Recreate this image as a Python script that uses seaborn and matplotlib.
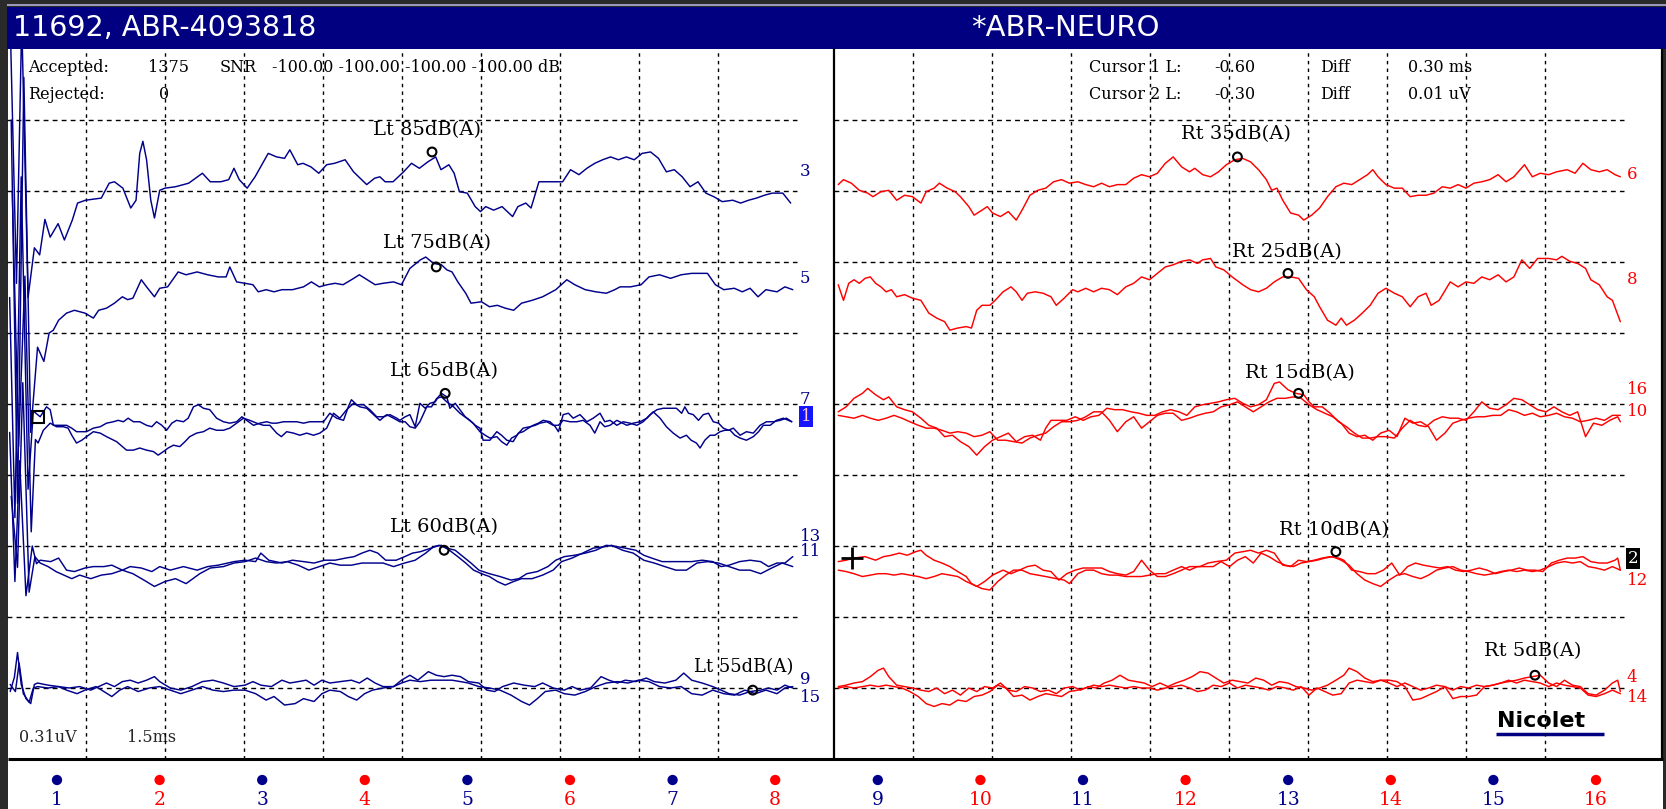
import numpy as np
import pandas as pd
import seaborn as sns
import matplotlib.pyplot as plt
from matplotlib.patches import Rectangle

# ---- waveform data: (time in ms, vertical position in screen divisions) ----
# left ear (blue)
LT85_3 = [(0.06,10.4),(0.18,6.7),(0.28,10.4),(0.40,6.5),(0.52,7.2),(0.62,7.1),(0.72,7.6),(0.82,7.35),(0.97,7.54),(1.09,7.31),(1.24,7.59),(1.34,7.83),(1.49,7.87),(1.79,7.90),(1.94,8.11),(2.04,8.13),(2.20,8.04),(2.35,7.76),(2.45,7.87),(2.52,8.53),(2.58,8.70),(2.65,8.44),(2.73,7.87),(2.80,7.62),(2.90,8.01),(3.00,8.04),(3.20,8.06),(3.45,8.11),(3.71,8.25),(3.86,8.13),(4.06,8.13),(4.21,8.16),(4.31,8.32),(4.41,8.16),(4.56,8.04),(4.71,8.20),(4.96,8.53),(5.12,8.48),(5.27,8.46),(5.37,8.58),(5.52,8.37),(5.62,8.39),(5.77,8.34),(5.92,8.25),(6.07,8.37),(6.22,8.39),(6.42,8.44),(6.58,8.27),(6.83,8.09),(6.98,8.18),(7.08,8.20),(7.18,8.13),(7.33,8.13),(7.53,8.27),(7.68,8.39),(7.83,8.32),(7.99,8.41),(8.14,8.48),(8.24,8.30),(8.39,8.37),(8.49,8.25),(8.59,7.99),(8.74,7.97),(8.89,7.78),(8.99,7.71),(9.09,7.78),(9.24,7.73),(9.40,7.78),(9.60,7.64),(9.70,7.78),(9.85,7.83),(9.95,7.76),(10.10,8.13),(10.35,8.13),(10.55,8.13),(10.70,8.30),(10.86,8.23),(11.01,8.32),(11.16,8.39),(11.31,8.44),(11.46,8.48),(11.61,8.44),(11.76,8.48),(11.91,8.44),(12.06,8.53),(12.22,8.55),(12.37,8.46),(12.52,8.27),(12.67,8.30),(12.82,8.20),(12.97,8.06),(13.12,8.13),(13.27,7.97),(13.42,7.92),(13.58,7.85),(13.78,7.87),(13.93,7.83),(14.08,7.87),(14.23,7.90),(14.38,7.94),(14.53,7.97),(14.73,7.97),(14.88,7.83)]
LT75_5 = [(0.08,9.0),(0.20,3.6),(0.32,9.6),(0.45,4.6),(0.58,5.8),(0.70,5.6),(0.80,6.0),(0.88,6.04),(0.98,6.18),(1.13,6.28),(1.28,6.32),(1.48,6.28),(1.64,6.21),(1.74,6.32),(1.89,6.35),(2.04,6.42),(2.19,6.51),(2.29,6.47),(2.39,6.49),(2.55,6.75),(2.65,6.65),(2.80,6.51),(2.90,6.63),(3.05,6.65),(3.25,6.86),(3.40,6.82),(3.61,6.86),(3.81,6.82),(4.01,6.79),(4.16,6.79),(4.23,6.93),(4.36,6.72),(4.52,6.70),(4.67,6.68),(4.77,6.58),(4.92,6.61),(5.07,6.58),(5.22,6.61),(5.42,6.61),(5.63,6.65),(5.78,6.72),(5.93,6.65),(6.08,6.68),(6.23,6.70),(6.38,6.68),(6.54,6.75),(6.69,6.82),(6.84,6.75),(6.99,6.68),(7.14,6.70),(7.34,6.72),(7.49,6.68),(7.65,6.91),(7.85,7.03),(7.95,7.07),(8.10,6.98),(8.25,6.96),(8.35,6.89),(8.45,6.86),(8.56,6.72),(8.71,6.56),(8.81,6.42),(9.01,6.44),(9.16,6.37),(9.31,6.39),(9.46,6.35),(9.62,6.32),(9.77,6.42),(9.97,6.46),(10.17,6.51),(10.42,6.61),(10.63,6.75),(10.78,6.68),(10.98,6.61),(11.18,6.58),(11.38,6.56),(11.54,6.61),(11.64,6.65),(11.84,6.65),(12.04,6.68),(12.19,6.79),(12.39,6.82),(12.60,6.77),(12.80,6.82),(13.00,6.84),(13.30,6.84),(13.45,6.68),(13.61,6.61),(13.81,6.63),(13.96,6.58),(14.11,6.63),(14.26,6.51),(14.41,6.61),(14.62,6.58),(14.77,6.65),(14.92,6.61)]
LT65_7 = [(0.05,6.5),(0.15,3.4),(0.27,8.2),(0.40,3.8),(0.50,4.9),(0.58,4.85),(0.63,4.82),(0.75,4.96),(0.82,4.92),(0.88,4.70),(1.01,4.70),(1.13,4.70),(1.23,4.66),(1.32,4.61),(1.42,4.61),(1.51,4.61),(1.64,4.66),(1.77,4.68),(1.89,4.73),(2.02,4.75),(2.11,4.77),(2.21,4.75),(2.30,4.80),(2.40,4.75),(2.52,4.75),(2.65,4.70),(2.75,4.68),(2.84,4.75),(2.94,4.70),(3.03,4.63),(3.13,4.73),(3.22,4.77),(3.35,4.75),(3.44,4.80),(3.54,4.96),(3.63,4.99),(3.73,4.94),(3.85,4.92),(3.98,4.80),(4.11,4.75),(4.23,4.73),(4.36,4.75),(4.46,4.82),(4.55,4.77),(4.68,4.70),(4.80,4.73),(4.93,4.75),(5.03,4.73),(5.12,4.73),(5.25,4.75),(5.37,4.75),(5.50,4.75),(5.63,4.73),(5.75,4.75),(5.88,4.75),(6.01,4.75),(6.13,4.87),(6.26,4.80),(6.39,4.77),(6.48,4.96),(6.54,5.06),(6.64,4.99),(6.77,4.99),(6.89,4.92),(7.02,4.82),(7.14,4.82),(7.27,4.85),(7.40,4.80),(7.46,4.77),(7.56,4.82),(7.65,4.85),(7.75,4.68),(7.84,5.01),(7.94,4.94),(8.03,5.01),(8.13,5.03),(8.19,5.10),(8.25,5.15),(8.35,5.10),(8.41,4.94),(8.51,5.01),(8.60,4.92),(8.70,4.82),(8.79,4.77),(8.89,4.70),(8.98,4.66),(9.04,4.49),(9.17,4.49),(9.30,4.61),(9.39,4.56),(9.49,4.49),(9.61,4.47),(9.71,4.59),(9.80,4.61),(9.90,4.66),(9.99,4.70),(10.09,4.73),(10.18,4.77),(10.31,4.75),(10.41,4.68),(10.47,4.61),(10.56,4.85),(10.66,4.87),(10.75,4.80),(10.88,4.85),(11.01,4.75),(11.13,4.80),(11.26,4.87),(11.35,4.75),(11.45,4.77),(11.58,4.70),(11.70,4.75),(11.83,4.73),(11.96,4.70),(12.08,4.75),(12.21,4.85),(12.34,4.92),(12.46,4.94),(12.59,4.94),(12.71,4.94),(12.81,4.87),(12.87,4.96),(12.94,4.87),(13.03,4.85),(13.13,4.77),(13.22,4.85),(13.32,4.87),(13.41,4.75),(13.51,4.73),(13.60,4.66),(13.70,4.63),(13.79,4.66),(13.92,4.56),(14.04,4.61),(14.17,4.59),(14.30,4.70),(14.42,4.75),(14.55,4.75),(14.68,4.77),(14.80,4.80),(14.90,4.75)]
LT65_1 = [(0.10,8.0),(0.22,4.4),(0.34,6.8),(0.46,3.2),(0.54,4.5),(0.59,4.45),(0.69,4.63),(0.82,4.73),(0.94,4.68),(1.07,4.68),(1.16,4.66),(1.23,4.56),(1.32,4.45),(1.42,4.49),(1.51,4.54),(1.64,4.61),(1.77,4.59),(1.89,4.54),(2.08,4.47),(2.27,4.35),(2.40,4.35),(2.52,4.38),(2.65,4.35),(2.78,4.33),(2.87,4.28),(2.97,4.33),(3.06,4.38),(3.16,4.42),(3.28,4.40),(3.38,4.47),(3.47,4.54),(3.60,4.59),(3.73,4.61),(3.85,4.66),(3.98,4.63),(4.11,4.63),(4.23,4.66),(4.36,4.73),(4.49,4.80),(4.61,4.77),(4.74,4.73),(4.87,4.70),(4.99,4.70),(5.12,4.59),(5.21,4.54),(5.31,4.61),(5.44,4.59),(5.56,4.56),(5.69,4.59),(5.82,4.56),(5.94,4.59),(6.07,4.66),(6.20,4.87),(6.32,4.80),(6.45,4.92),(6.58,5.01),(6.70,4.96),(6.83,4.94),(6.96,4.85),(7.08,4.77),(7.21,4.85),(7.34,4.80),(7.46,4.75),(7.56,4.75),(7.65,4.68),(7.75,4.66),(7.84,4.75),(7.97,4.96),(8.06,4.96),(8.16,5.08),(8.25,5.10),(8.35,5.03),(8.48,4.96),(8.60,4.87),(8.73,4.80),(8.85,4.73),(8.98,4.61),(9.08,4.56),(9.17,4.52),(9.30,4.54),(9.39,4.47),(9.49,4.42),(9.58,4.52),(9.68,4.56),(9.80,4.66),(9.93,4.68),(10.03,4.70),(10.12,4.73),(10.25,4.75),(10.37,4.70),(10.47,4.70),(10.56,4.77),(10.69,4.75),(10.82,4.75),(10.94,4.77),(11.07,4.70),(11.16,4.59),(11.26,4.75),(11.35,4.68),(11.45,4.70),(11.58,4.77),(11.77,4.70),(11.89,4.73),(12.02,4.75),(12.15,4.80),(12.27,4.89),(12.40,4.80),(12.52,4.68),(12.65,4.59),(12.78,4.52),(12.90,4.56),(12.99,4.49),(13.09,4.45),(13.16,4.38),(13.25,4.49),(13.35,4.56),(13.44,4.56),(13.54,4.61),(13.63,4.63),(13.73,4.63),(13.82,4.56),(13.92,4.52),(14.04,4.49),(14.17,4.54),(14.27,4.61),(14.36,4.70),(14.49,4.70),(14.61,4.77),(14.74,4.80),(14.90,4.75)]
LT60_13 = [(0.05,4.6),(0.15,2.5),(0.24,4.2),(0.36,2.3),(0.48,3.0),(0.56,2.75),(0.63,2.80),(0.83,2.78),(0.98,2.83),(1.13,2.66),(1.28,2.64),(1.48,2.69),(1.64,2.71),(1.84,2.71),(1.99,2.73),(2.19,2.66),(2.34,2.71),(2.55,2.69),(2.75,2.64),(2.90,2.71),(3.10,2.66),(3.35,2.71),(3.61,2.66),(3.81,2.71),(4.01,2.73),(4.31,2.78),(4.52,2.80),(4.72,2.78),(4.82,2.90),(4.97,2.80),(5.22,2.76),(5.42,2.80),(5.63,2.78),(5.83,2.76),(6.03,2.80),(6.23,2.80),(6.43,2.83),(6.59,2.85),(6.74,2.90),(6.89,2.94),(7.04,2.90),(7.19,2.80),(7.39,2.80),(7.55,2.85),(7.70,2.90),(7.85,2.92),(8.05,2.97),(8.20,3.01),(8.35,2.97),(8.51,2.94),(8.66,2.85),(8.81,2.76),(8.96,2.66),(9.16,2.61),(9.36,2.57),(9.57,2.52),(9.72,2.54),(9.87,2.61),(10.07,2.64),(10.27,2.71),(10.42,2.80),(10.58,2.85),(10.78,2.87),(10.98,2.90),(11.18,2.94),(11.38,3.01),(11.59,2.99),(11.74,2.97),(11.94,2.94),(12.09,2.87),(12.24,2.83),(12.44,2.78),(12.60,2.78),(12.80,2.78),(13.00,2.78),(13.20,2.80),(13.40,2.78),(13.56,2.71),(13.71,2.73),(13.91,2.78),(14.11,2.80),(14.31,2.78),(14.46,2.71),(14.62,2.76),(14.77,2.76),(14.92,2.85)]
LT60_11 = [(0.08,3.7),(0.20,2.7),(0.30,5.3),(0.42,2.35),(0.53,2.85),(0.63,2.76),(0.78,2.71),(0.93,2.64),(1.08,2.59),(1.23,2.54),(1.38,2.59),(1.59,2.54),(1.79,2.59),(1.99,2.61),(2.19,2.66),(2.39,2.61),(2.60,2.52),(2.80,2.43),(3.00,2.50),(3.20,2.54),(3.40,2.47),(3.66,2.61),(3.86,2.69),(4.11,2.71),(4.31,2.76),(4.52,2.78),(4.72,2.83),(4.92,2.78),(5.12,2.76),(5.32,2.78),(5.53,2.73),(5.73,2.66),(5.93,2.71),(6.13,2.76),(6.33,2.73),(6.54,2.73),(6.74,2.76),(6.94,2.76),(7.14,2.76),(7.34,2.71),(7.55,2.76),(7.75,2.80),(7.95,2.90),(8.10,2.99),(8.25,3.01),(8.40,2.94),(8.56,2.85),(8.71,2.76),(8.86,2.66),(9.01,2.61),(9.16,2.57),(9.31,2.50),(9.46,2.45),(9.62,2.50),(9.77,2.54),(9.97,2.54),(10.17,2.59),(10.37,2.66),(10.53,2.78),(10.73,2.83),(10.93,2.90),(11.13,2.97),(11.33,2.99),(11.48,3.01),(11.69,2.94),(11.89,2.90),(12.09,2.80),(12.29,2.76),(12.49,2.71),(12.70,2.66),(12.90,2.66),(13.10,2.76),(13.30,2.78),(13.51,2.76),(13.71,2.71),(13.91,2.66),(14.11,2.66),(14.31,2.61),(14.52,2.69),(14.72,2.76),(14.92,2.71)]
LT55_9 = [(0.06,0.95),(0.14,1.15),(0.20,1.50),(0.27,1.05),(0.36,0.85),(0.45,0.78),(0.52,1.05),(0.58,1.07),(0.78,1.04),(0.98,1.02),(1.18,1.00),(1.38,1.02),(1.59,0.97),(1.74,1.02),(1.89,1.07),(2.04,1.02),(2.19,1.09),(2.34,1.11),(2.49,1.07),(2.65,1.11),(2.80,1.16),(2.90,1.09),(3.10,1.00),(3.30,0.97),(3.51,1.02),(3.71,1.09),(3.91,1.11),(4.11,1.07),(4.31,1.02),(4.52,1.04),(4.67,1.09),(4.82,1.04),(5.02,1.02),(5.22,1.11),(5.37,1.07),(5.53,1.09),(5.68,1.11),(5.83,1.04),(5.98,1.11),(6.13,1.07),(6.33,1.09),(6.54,1.11),(6.69,1.07),(6.84,1.14),(6.99,1.07),(7.14,1.02),(7.34,1.02),(7.49,1.11),(7.65,1.18),(7.80,1.11),(8.00,1.23),(8.15,1.18),(8.30,1.16),(8.45,1.18),(8.61,1.16),(8.76,1.09),(8.96,1.07),(9.11,0.97),(9.26,0.95),(9.41,1.02),(9.62,1.07),(9.82,1.04),(10.02,1.02),(10.17,1.07),(10.37,1.00),(10.58,0.97),(10.73,1.02),(10.88,0.97),(11.08,1.00),(11.28,1.16),(11.43,1.11),(11.59,1.07),(11.74,1.11),(11.94,1.09),(12.14,1.14),(12.29,1.09),(12.49,1.07),(12.70,1.11),(12.85,1.21),(13.00,1.11),(13.20,1.07),(13.40,1.02),(13.56,0.97),(13.71,0.92),(13.91,0.90),(14.11,0.95),(14.31,0.97),(14.46,1.00),(14.62,0.97),(14.77,1.04),(14.92,1.00)]
LT55_15 = [(0.06,1.05),(0.16,0.95),(0.23,1.35),(0.31,0.92),(0.42,0.80),(0.50,1.00),(0.58,1.02),(0.78,1.00),(0.98,1.02),(1.13,0.97),(1.33,0.92),(1.48,0.97),(1.69,1.02),(1.84,0.95),(1.99,0.88),(2.14,0.97),(2.29,1.02),(2.49,0.95),(2.70,1.00),(2.90,1.02),(3.10,0.97),(3.30,0.92),(3.51,0.97),(3.71,1.02),(3.91,0.97),(4.11,0.95),(4.31,0.97),(4.52,0.97),(4.72,0.92),(4.92,0.83),(5.07,0.88),(5.27,0.76),(5.47,0.78),(5.63,0.85),(5.83,0.81),(5.98,0.92),(6.13,0.97),(6.33,0.95),(6.48,0.88),(6.64,0.83),(6.79,0.92),(6.94,0.97),(7.14,1.00),(7.34,1.02),(7.49,1.07),(7.65,1.11),(7.85,1.09),(8.05,1.11),(8.25,1.11),(8.45,1.11),(8.61,1.09),(8.76,1.07),(8.96,1.02),(9.16,1.00),(9.36,0.97),(9.57,0.90),(9.77,0.81),(9.92,0.76),(10.07,0.85),(10.22,0.95),(10.42,0.97),(10.58,0.92),(10.78,0.90),(10.98,0.95),(11.18,1.02),(11.38,1.07),(11.59,1.09),(11.79,1.07),(11.99,1.11),(12.19,1.09),(12.39,1.02),(12.60,1.00),(12.80,1.02),(13.00,0.92),(13.20,0.90),(13.40,0.97),(13.61,0.92),(13.81,0.90),(14.01,0.97),(14.21,0.92),(14.41,0.97),(14.62,0.92),(14.77,1.00),(14.92,1.02)]

# right ear (red)
RT35_6 = [(0.08,8.09),(0.18,8.16),(0.33,8.11),(0.48,8.01),(0.64,7.97),(0.74,7.92),(0.89,7.99),(1.04,8.01),(1.19,7.87),(1.34,7.94),(1.49,7.92),(1.65,7.83),(1.75,7.99),(1.90,8.04),(2.00,8.11),(2.15,8.04),(2.30,7.99),(2.40,7.92),(2.56,7.78),(2.66,7.66),(2.81,7.73),(2.91,7.78),(3.01,7.69),(3.16,7.64),(3.31,7.71),(3.46,7.59),(3.57,7.73),(3.72,7.94),(3.87,8.01),(4.02,8.04),(4.17,8.13),(4.32,8.16),(4.47,8.11),(4.63,8.13),(4.78,8.09),(4.93,8.06),(5.08,8.11),(5.23,8.06),(5.38,8.09),(5.54,8.09),(5.69,8.18),(5.84,8.23),(5.99,8.20),(6.14,8.25),(6.29,8.39),(6.44,8.48),(6.60,8.34),(6.75,8.27),(6.85,8.32),(7.00,8.23),(7.15,8.20),(7.30,8.27),(7.45,8.37),(7.61,8.44),(7.76,8.46),(7.91,8.41),(8.06,8.30),(8.21,8.16),(8.31,8.01),(8.41,8.04),(8.52,7.87),(8.67,7.69),(8.82,7.66),(8.92,7.59),(9.07,7.66),(9.22,7.76),(9.37,7.92),(9.53,8.06),(9.68,8.11),(9.83,8.09),(9.98,8.16),(10.13,8.23),(10.23,8.30),(10.33,8.20),(10.48,8.09),(10.64,8.04),(10.79,8.04),(10.94,7.92),(11.09,7.94),(11.24,7.94),(11.39,7.97),(11.55,8.06),(11.70,8.04),(11.85,8.09),(12.00,8.04),(12.15,8.11),(12.30,8.13),(12.45,8.16),(12.61,8.23),(12.76,8.13),(12.91,8.20),(13.11,8.37),(13.26,8.20),(13.41,8.25),(13.57,8.23),(13.72,8.27),(13.92,8.30),(14.07,8.25),(14.22,8.39),(14.37,8.30),(14.53,8.27),(14.68,8.30),(14.83,8.23),(14.93,8.20)]
RT25_8 = [(0.08,6.68),(0.18,6.46),(0.28,6.70),(0.38,6.75),(0.48,6.70),(0.59,6.77),(0.69,6.79),(0.79,6.70),(0.89,6.65),(0.99,6.58),(1.09,6.61),(1.19,6.51),(1.34,6.54),(1.49,6.49),(1.65,6.46),(1.80,6.28),(1.95,6.21),(2.10,6.16),(2.20,6.04),(2.35,6.07),(2.51,6.09),(2.61,6.07),(2.71,6.32),(2.81,6.39),(2.96,6.39),(3.06,6.46),(3.21,6.58),(3.36,6.65),(3.46,6.58),(3.57,6.46),(3.67,6.56),(3.82,6.58),(3.97,6.56),(4.12,6.51),(4.22,6.39),(4.37,6.49),(4.53,6.61),(4.63,6.58),(4.78,6.63),(4.93,6.58),(5.08,6.63),(5.23,6.61),(5.38,6.54),(5.54,6.65),(5.69,6.70),(5.84,6.79),(5.99,6.75),(6.14,6.84),(6.29,6.93),(6.44,6.96),(6.60,7.01),(6.75,7.03),(6.90,6.98),(7.00,7.03),(7.15,7.05),(7.25,6.93),(7.40,6.89),(7.56,6.79),(7.76,6.68),(7.91,6.61),(8.06,6.58),(8.21,6.63),(8.36,6.72),(8.52,6.79),(8.67,6.79),(8.82,6.77),(8.97,6.61),(9.12,6.51),(9.22,6.37),(9.37,6.18),(9.53,6.11),(9.63,6.21),(9.73,6.11),(9.88,6.18),(10.03,6.28),(10.18,6.39),(10.33,6.56),(10.48,6.63),(10.64,6.56),(10.79,6.51),(10.94,6.37),(11.09,6.51),(11.24,6.56),(11.34,6.39),(11.49,6.46),(11.70,6.72),(11.85,6.65),(12.00,6.72),(12.15,6.70),(12.30,6.79),(12.45,6.75),(12.61,6.82),(12.76,6.72),(12.91,6.79),(13.06,7.03),(13.21,6.91),(13.36,7.05),(13.57,7.05),(13.72,7.03),(13.82,7.08),(13.97,7.01),(14.12,6.98),(14.27,6.91),(14.37,6.75),(14.53,6.68),(14.68,6.51),(14.78,6.46),(14.93,6.16)]
RT15_16 = [(0.08,4.89),(0.23,4.96),(0.38,5.08),(0.54,5.15),(0.64,5.22),(0.79,5.13),(0.94,5.06),(1.04,5.10),(1.19,4.96),(1.34,4.92),(1.49,4.89),(1.65,4.80),(1.80,4.70),(1.95,4.66),(2.10,4.54),(2.25,4.56),(2.40,4.47),(2.56,4.40),(2.71,4.28),(2.86,4.40),(3.01,4.49),(3.16,4.54),(3.31,4.59),(3.46,4.47),(3.62,4.54),(3.77,4.56),(3.92,4.49),(4.02,4.66),(4.12,4.77),(4.27,4.77),(4.42,4.77),(4.58,4.82),(4.73,4.77),(4.88,4.82),(5.03,4.84),(5.18,4.94),(5.33,4.92),(5.48,4.92),(5.64,4.89),(5.79,4.87),(5.94,4.84),(6.09,4.84),(6.24,4.89),(6.39,4.92),(6.55,4.89),(6.70,4.84),(6.85,4.96),(7.00,4.99),(7.15,5.01),(7.30,5.03),(7.45,5.06),(7.61,5.08),(7.76,5.01),(7.91,4.96),(8.06,4.99),(8.21,5.06),(8.36,5.29),(8.46,5.31),(8.62,5.20),(8.77,5.15),(8.92,5.13),(9.02,5.03),(9.12,4.96),(9.27,4.96),(9.42,4.87),(9.58,4.75),(9.73,4.68),(9.88,4.59),(10.03,4.52),(10.18,4.52),(10.33,4.54),(10.48,4.54),(10.64,4.52),(10.79,4.66),(10.94,4.77),(11.09,4.70),(11.24,4.68),(11.39,4.77),(11.55,4.82),(11.70,4.80),(11.85,4.80),(12.00,4.77),(12.15,4.89),(12.30,5.03),(12.45,4.94),(12.61,4.92),(12.76,4.99),(12.91,5.08),(13.06,5.06),(13.21,4.99),(13.36,4.92),(13.52,4.89),(13.67,4.96),(13.82,4.89),(13.97,4.84),(14.12,4.89),(14.27,4.54),(14.42,4.73),(14.58,4.70),(14.73,4.77),(14.88,4.82),(14.93,4.75)]
RT15_10 = [(0.08,4.84),(0.23,4.82),(0.38,4.80),(0.54,4.84),(0.69,4.80),(0.84,4.77),(0.99,4.80),(1.14,4.84),(1.29,4.80),(1.44,4.75),(1.60,4.70),(1.75,4.66),(1.90,4.66),(2.05,4.63),(2.20,4.59),(2.35,4.61),(2.51,4.59),(2.66,4.54),(2.81,4.56),(2.96,4.61),(3.11,4.49),(3.26,4.49),(3.41,4.47),(3.57,4.45),(3.72,4.52),(3.87,4.56),(4.02,4.59),(4.17,4.68),(4.32,4.75),(4.47,4.75),(4.63,4.77),(4.78,4.82),(4.93,4.89),(5.08,4.89),(5.23,4.77),(5.38,4.61),(5.54,4.75),(5.69,4.82),(5.84,4.66),(5.99,4.75),(6.14,4.84),(6.29,4.87),(6.44,4.87),(6.60,4.77),(6.75,4.80),(6.90,4.84),(7.05,4.87),(7.20,4.89),(7.35,4.96),(7.51,4.99),(7.66,5.03),(7.81,4.96),(7.96,4.89),(8.11,4.96),(8.26,5.03),(8.41,5.08),(8.57,5.08),(8.72,5.10),(8.87,5.08),(9.02,4.99),(9.17,4.92),(9.32,4.87),(9.47,4.82),(9.63,4.73),(9.78,4.59),(9.93,4.54),(10.08,4.56),(10.23,4.49),(10.38,4.59),(10.54,4.63),(10.69,4.54),(10.84,4.80),(10.99,4.73),(11.14,4.75),(11.29,4.68),(11.44,4.49),(11.60,4.59),(11.75,4.73),(11.90,4.77),(12.05,4.80),(12.20,4.82),(12.35,4.82),(12.51,4.84),(12.66,4.84),(12.81,4.92),(12.96,4.89),(13.11,4.84),(13.26,4.87),(13.41,4.82),(13.57,4.84),(13.72,4.87),(13.87,4.82),(14.02,4.80),(14.17,4.75),(14.32,4.77),(14.47,4.80),(14.63,4.77),(14.78,4.84),(14.93,4.84)]
RT10_2 = [(0.08,2.78),(0.23,2.80),(0.38,2.83),(0.59,2.85),(0.79,2.80),(0.94,2.85),(1.09,2.87),(1.24,2.90),(1.39,2.87),(1.55,2.92),(1.65,2.94),(1.75,2.87),(1.90,2.80),(2.05,2.76),(2.20,2.71),(2.35,2.64),(2.51,2.57),(2.61,2.47),(2.71,2.43),(2.86,2.50),(3.01,2.59),(3.21,2.66),(3.36,2.61),(3.52,2.66),(3.67,2.71),(3.82,2.73),(3.97,2.66),(4.12,2.64),(4.27,2.52),(4.42,2.61),(4.58,2.66),(4.73,2.69),(4.93,2.69),(5.08,2.69),(5.23,2.64),(5.38,2.61),(5.54,2.59),(5.69,2.64),(5.84,2.80),(5.99,2.66),(6.14,2.57),(6.29,2.57),(6.44,2.61),(6.60,2.66),(6.75,2.71),(6.95,2.71),(7.10,2.76),(7.25,2.78),(7.45,2.80),(7.61,2.90),(7.76,2.92),(7.91,2.94),(8.06,2.90),(8.21,2.94),(8.36,2.90),(8.52,2.73),(8.67,2.71),(8.82,2.80),(8.97,2.78),(9.12,2.80),(9.27,2.83),(9.42,2.85),(9.58,2.83),(9.68,2.80),(9.83,2.66),(9.98,2.64),(10.13,2.61),(10.28,2.61),(10.43,2.66),(10.59,2.76),(10.74,2.59),(10.89,2.71),(11.04,2.76),(11.19,2.73),(11.34,2.71),(11.50,2.69),(11.65,2.71),(11.80,2.66),(11.95,2.64),(12.10,2.66),(12.25,2.69),(12.40,2.66),(12.56,2.61),(12.71,2.64),(12.86,2.66),(13.01,2.69),(13.16,2.66),(13.31,2.66),(13.46,2.64),(13.62,2.76),(13.77,2.80),(13.92,2.83),(14.07,2.83),(14.22,2.85),(14.37,2.78),(14.53,2.76),(14.68,2.76),(14.83,2.80),(14.88,2.83),(14.93,2.66)]
RT10_12 = [(0.08,2.66),(0.23,2.64),(0.38,2.61),(0.54,2.57),(0.69,2.59),(0.84,2.61),(0.99,2.61),(1.14,2.59),(1.29,2.61),(1.44,2.59),(1.60,2.57),(1.75,2.54),(1.90,2.57),(2.05,2.61),(2.20,2.59),(2.35,2.57),(2.51,2.50),(2.66,2.45),(2.81,2.40),(2.96,2.38),(3.11,2.50),(3.26,2.59),(3.41,2.66),(3.57,2.66),(3.72,2.61),(3.87,2.59),(4.02,2.57),(4.22,2.54),(4.37,2.52),(4.47,2.47),(4.63,2.61),(4.78,2.66),(4.93,2.66),(5.08,2.61),(5.23,2.59),(5.38,2.59),(5.54,2.57),(5.69,2.57),(5.84,2.57),(5.99,2.59),(6.14,2.61),(6.29,2.61),(6.44,2.66),(6.60,2.71),(6.75,2.66),(6.90,2.71),(7.05,2.71),(7.20,2.71),(7.35,2.78),(7.51,2.71),(7.66,2.80),(7.81,2.85),(7.96,2.76),(8.11,2.90),(8.26,2.85),(8.41,2.78),(8.57,2.73),(8.72,2.71),(8.87,2.76),(9.02,2.78),(9.17,2.80),(9.32,2.83),(9.47,2.85),(9.63,2.80),(9.78,2.73),(9.93,2.61),(10.08,2.52),(10.23,2.47),(10.38,2.43),(10.54,2.52),(10.69,2.59),(10.84,2.61),(10.99,2.57),(11.14,2.54),(11.29,2.59),(11.44,2.66),(11.60,2.69),(11.75,2.71),(11.90,2.66),(12.05,2.64),(12.20,2.61),(12.35,2.59),(12.51,2.61),(12.66,2.64),(12.81,2.66),(12.96,2.64),(13.11,2.66),(13.26,2.64),(13.41,2.66),(13.57,2.71),(13.72,2.76),(13.87,2.78),(14.02,2.76),(14.17,2.78),(14.32,2.71),(14.47,2.69),(14.63,2.66),(14.78,2.71),(14.93,2.66)]
RT5_4 = [(0.08,1.02),(0.23,1.04),(0.38,1.07),(0.54,1.09),(0.69,1.16),(0.84,1.25),(0.94,1.28),(1.04,1.16),(1.19,1.04),(1.34,1.02),(1.49,1.00),(1.65,0.97),(1.80,0.95),(1.95,1.00),(2.10,0.92),(2.25,0.97),(2.40,0.90),(2.56,1.00),(2.71,0.95),(2.86,1.02),(3.01,1.00),(3.16,1.07),(3.31,0.97),(3.46,0.95),(3.62,1.02),(3.77,1.00),(3.92,0.95),(4.07,0.97),(4.22,0.92),(4.37,1.00),(4.53,1.02),(4.68,0.97),(4.83,1.02),(4.98,1.00),(5.13,1.07),(5.28,1.11),(5.43,1.18),(5.59,1.11),(5.74,1.09),(5.89,1.07),(6.04,1.02),(6.19,1.07),(6.34,1.02),(6.49,1.07),(6.65,1.11),(6.80,1.16),(6.95,1.23),(7.10,1.21),(7.25,1.14),(7.40,1.07),(7.56,1.11),(7.71,1.09),(7.86,1.07),(8.01,1.14),(8.16,1.11),(8.31,1.04),(8.46,1.09),(8.62,1.07),(8.77,1.02),(8.92,1.00),(9.07,0.97),(9.22,1.00),(9.37,1.04),(9.53,1.11),(9.68,1.18),(9.78,1.28),(9.93,1.23),(10.08,1.14),(10.23,1.09),(10.38,1.11),(10.54,1.07),(10.69,1.02),(10.84,1.07),(10.99,1.02),(11.14,0.97),(11.29,1.00),(11.44,1.04),(11.60,1.02),(11.75,0.97),(11.90,1.02),(12.05,1.00),(12.20,1.04),(12.35,1.02),(12.51,1.04),(12.66,1.07),(12.81,1.09),(12.96,1.11),(13.11,1.14),(13.26,1.16),(13.41,1.18),(13.57,1.07),(13.72,1.02),(13.87,1.11),(14.02,1.04),(14.17,1.02),(14.32,0.92),(14.47,0.90),(14.63,0.97),(14.78,1.07),(14.88,1.11),(14.93,0.95)]
RT5_14 = [(0.08,1.00),(0.23,1.02),(0.38,1.00),(0.54,1.02),(0.69,1.04),(0.84,1.02),(0.99,1.04),(1.14,1.02),(1.29,1.00),(1.44,0.95),(1.60,0.88),(1.75,0.78),(1.90,0.74),(2.05,0.78),(2.20,0.76),(2.35,0.83),(2.51,0.81),(2.66,0.88),(2.81,0.90),(2.96,0.95),(3.11,1.04),(3.26,1.00),(3.41,0.88),(3.57,0.90),(3.72,0.83),(3.87,0.88),(4.02,0.92),(4.17,0.90),(4.32,0.88),(4.47,0.95),(4.63,0.97),(4.78,1.00),(4.93,1.04),(5.08,1.02),(5.23,1.04),(5.38,1.02),(5.54,1.00),(5.69,1.02),(5.84,1.00),(5.99,1.00),(6.14,0.97),(6.29,1.00),(6.44,1.02),(6.60,1.04),(6.75,1.00),(6.90,0.95),(7.05,0.97),(7.20,1.04),(7.35,1.02),(7.51,1.07),(7.66,1.00),(7.81,1.04),(7.96,1.02),(8.11,1.00),(8.26,0.97),(8.41,1.02),(8.57,1.00),(8.72,0.97),(8.87,1.02),(9.02,0.90),(9.17,1.00),(9.32,0.95),(9.47,0.90),(9.63,0.92),(9.78,1.07),(9.93,1.11),(10.08,1.09),(10.23,1.07),(10.38,1.11),(10.54,1.11),(10.69,1.09),(10.84,1.02),(10.99,0.83),(11.14,0.85),(11.29,0.90),(11.44,0.95),(11.60,1.02),(11.75,0.85),(11.90,0.88),(12.05,0.88),(12.20,0.90),(12.35,1.02),(12.51,1.04),(12.66,1.07),(12.81,1.11),(12.96,1.07),(13.11,1.11),(13.26,1.09),(13.41,1.07),(13.57,1.02),(13.72,1.07),(13.87,1.04),(14.02,1.02),(14.17,1.00),(14.32,0.90),(14.47,0.88),(14.63,0.92),(14.78,0.97),(14.93,0.92)]

LEFT_TRACES = {'3': LT85_3, '5': LT75_5, '7': LT65_7, '1': LT65_1,
               '13': LT60_13, '11': LT60_11, '9': LT55_9, '15': LT55_15}
RIGHT_TRACES = {'6': RT35_6, '8': RT25_8, '16': RT15_16, '10': RT15_10,
                '2': RT10_2, '12': RT10_12, '4': RT5_4, '14': RT5_14}

# peak marks and their labels
left_peak_t = [8.07, 8.15, 8.32, 8.30, 14.16]
left_peak_v = [8.55, 6.93, 5.15, 2.94, 0.97]
left_peak_text = ['Lt 85dB(A)', 'Lt 75dB(A)', 'Lt 65dB(A)', 'Lt 60dB(A)', 'Lt 55dB(A)']
left_label_pos = [(7.97, 8.86), (8.16, 7.27), (8.30, 5.46), (8.30, 3.27), (13.98, 1.30)]
right_peak_t = [7.66, 8.62, 8.82, 9.53, 13.31]
right_peak_v = [8.48, 6.84, 5.15, 2.92, 1.18]
right_peak_text = ['Rt 35dB(A)', 'Rt 25dB(A)', 'Rt 15dB(A)', 'Rt 10dB(A)', 'Rt 5dB(A)']
right_label_pos = [(7.63, 8.80), (8.60, 7.14), (8.85, 5.44), (9.49, 3.23), (13.27, 1.52)]

# trace number tags at the right end of each panel
left_tags = [('3', 8.27), ('5', 6.77), ('7', 5.06), ('1', 4.82), ('13', 3.13),
             ('11', 2.92), ('9', 1.12), ('15', 0.87)]
right_tags = [('6', 8.23), ('8', 6.75), ('16', 5.20), ('10', 4.89), ('2', 2.83),
              ('12', 2.52), ('4', 1.15), ('14', 0.86)]

legend_numbers = list(range(1, 17))

NAVY = '#000080'
BLUE = '#00008B'
RED = '#FF0000'
SERIF = ['DejaVu Serif']

W, H = 1666, 809


def to_frame(traces):
    rows = []
    for name, pts in traces.items():
        for t, v in pts:
            rows.append((name, t, v))
    return pd.DataFrame(rows, columns=['trace', 't', 'v'])


sns.set_theme(style='white')
plt.rcParams['font.family'] = ['DejaVu Sans']

fig = plt.figure(figsize=(W / 100, H / 100), dpi=100, facecolor='#2a2a2a')

# background layer in pixel coordinates
bg = fig.add_axes([0, 0, 1, 1], zorder=0)
bg.set_xlim(0, W)
bg.set_ylim(H, 0)
bg.axis('off')
bg.add_patch(Rectangle((7, 4), W - 7, 2, color='#9a9ab8', lw=0))
bg.add_patch(Rectangle((7, 7), W - 7, 42, color=NAVY, lw=0))
bg.add_patch(Rectangle((8, 49), 1655, 760, color='white', lw=0))
bg.plot([8, 1663], [759, 759], color='black', lw=2.2, solid_capstyle='butt')
bg.plot([834, 834], [49, 759], color='black', lw=1.6)
bg.plot([1662, 1662], [49, 759], color='black', lw=1.6)
bg.text(13, 28, '11692, ABR-4093818', color='white', fontsize=20.5, va='center', ha='left')
bg.text(971, 28, '*ABR-NEURO', color='white', fontsize=21, va='center', ha='left')

info_fs = 11.5
row1, row2 = 67, 94
left_row1 = [(28, 'Accepted:'), (148, '1375'), (220, 'SNR'),
             (272, '-100.00 -100.00 -100.00 -100.00 dB')]
for x, s in left_row1:
    bg.text(x, row1, s, fontsize=info_fs, family=SERIF, va='center', ha='left', color='black')
for x, s in [(28, 'Rejected:'), (159, '0')]:
    bg.text(x, row2, s, fontsize=info_fs, family=SERIF, va='center', ha='left', color='black')
for x, s in [(1089, 'Cursor 1 L:'), (1214, '-0.60'), (1320, 'Diff'), (1408, '0.30 ms')]:
    bg.text(x, row1, s, fontsize=info_fs, family=SERIF, va='center', ha='left', color='black')
for x, s in [(1089, 'Cursor 2 L:'), (1214, '-0.30'), (1320, 'Diff'), (1408, '0.01 uV')]:
    bg.text(x, row2, s, fontsize=info_fs, family=SERIF, va='center', ha='left', color='black')
bg.text(19, 737, '0.31uV', fontsize=info_fs, family=SERIF, va='center', ha='left')
bg.text(127, 737, '1.5ms', fontsize=info_fs, family=SERIF, va='center', ha='left')

bg.text(1497, 721, 'Nicolet', fontsize=16, fontweight='bold', va='center', ha='left', color='black')
bg.plot([1496, 1604], [734, 734], color=NAVY, lw=2.5, solid_capstyle='butt')

# legend row below the panels
leg_x = np.linspace(57, 1596, len(legend_numbers))
leg_col = [BLUE if n % 2 else RED for n in legend_numbers]
bg.scatter(leg_x, np.full(len(leg_x), 780), s=55, c=leg_col, marker='o', lw=0)
for x, n, c in zip(leg_x, legend_numbers, leg_col):
    bg.text(x, 800, str(n), color=c, fontsize=13.5, family=SERIF, va='center', ha='center')

# panels: 10 divisions of 79 px, 1.5 ms per division
span = 15.0 / 790


def make_panel(left_px, right_px):
    ax = fig.add_axes([left_px / W, (H - 759) / H, (right_px - left_px) / W, 710 / H], zorder=1)
    ax.set_facecolor('none')
    ax.set_xlim(0, (right_px - left_px) * span)
    ax.set_ylim(0, 10)
    ax.axis('off')
    for k in range(1, 10):
        ax.axvline(1.5 * k, color='black', lw=1.0, ls=(0, (2.5, 3.0)), zorder=1)
        ax.hlines(k, 0, 15, color='black', lw=1.0, linestyles=[(0, (3.5, 3.0))], zorder=1)
    return ax


ax_l = make_panel(7, 834)
ax_r = make_panel(834, 1662)

for ax, traces, color in [(ax_l, LEFT_TRACES, BLUE), (ax_r, RIGHT_TRACES, RED)]:
    sns.lineplot(data=to_frame(traces), x='t', y='v', units='trace', estimator=None,
                 sort=False, color=color, lw=1.05, ax=ax, legend=False, zorder=3)
    ax.axis('off')

for ax, pt, pv, texts, pos in [(ax_l, left_peak_t, left_peak_v, left_peak_text, left_label_pos),
                               (ax_r, right_peak_t, right_peak_v, right_peak_text, right_label_pos)]:
    sns.scatterplot(x=pt, y=pv, ax=ax, marker='o', s=40, facecolors='none',
                    edgecolor='black', linewidth=1.5, zorder=5)
    for s, (tx, ty) in zip(texts, pos):
        fs = 13 if s == 'Lt 55dB(A)' else 14
        ax.text(tx, ty, s, fontsize=fs, family=SERIF, ha='center', va='center', color='black', zorder=6)

for ax, tags, color in [(ax_l, left_tags, BLUE), (ax_r, right_tags, RED)]:
    for s, y in tags:
        kw = dict(fontsize=12, family=SERIF, ha='left', va='center', zorder=6)
        if s == '1':
            ax.text(15.07, y, s, color='#ffc8d0', bbox=dict(boxstyle='square,pad=0.12', fc='#1414ff', ec='none'), **kw)
        elif s == '2':
            ax.text(15.07, y, s, color='white', bbox=dict(boxstyle='square,pad=0.12', fc='black', ec='none'), **kw)
        else:
            ax.text(15.05, y, s, color=color, **kw)

# cursors
ax_r.plot([0.34], [2.83], marker='+', ms=16, mew=2.0, color='black', zorder=6)
ax_l.plot([0.59], [4.82], marker='s', ms=8, mfc='none', mew=1.5, mec='black', zorder=6)

fig.savefig('out.png', dpi=100, facecolor=fig.get_facecolor())
